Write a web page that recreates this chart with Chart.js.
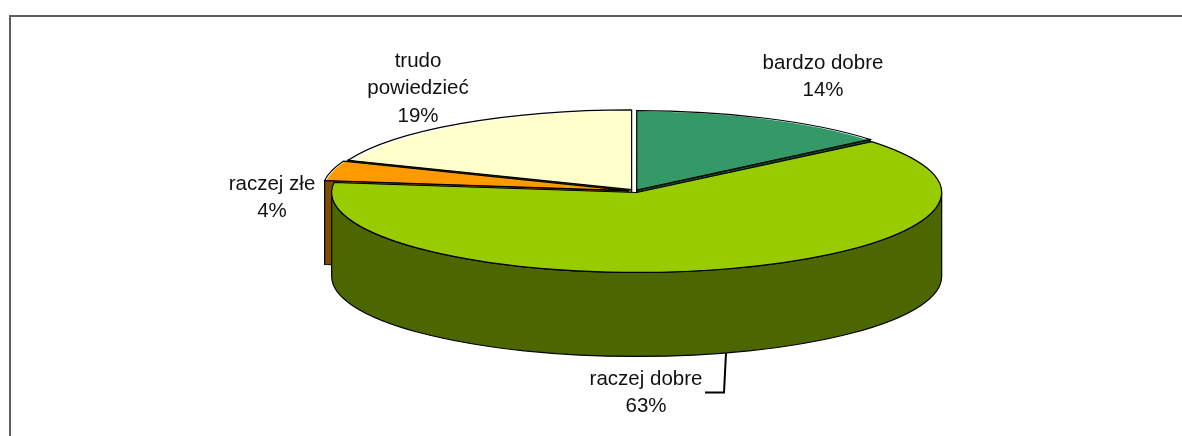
<!DOCTYPE html>
<html>
<head>
<meta charset="utf-8">
<style>html,body{margin:0;padding:0;background:#fff}canvas{display:block}</style>
<script src="https://cdn.jsdelivr.net/npm/chart.js@4/dist/chart.umd.min.js"></script>
</head>
<body>
<canvas id="c" width="1182" height="436"></canvas>
<script>
const categories = ['bardzo dobre', 'raczej dobre', 'raczej złe', 'trudo powiedzieć'];
const values = [14, 63, 4, 19];
const topColors = ['#339966', '#99CC00', '#FF9900', '#FFFFCC'];
const wallColors = ['#1A4D33', '#4C6600', '#804C00', '#80801A'];
const explode = [16, 24, 28, 24];

const TILT = 0.262, DEPTH = 84;
const labelLayout = [
  {lines: ['bardzo dobre'], x: 823, y: 63},
  {lines: ['raczej dobre'], x: 646, y: 379},
  {lines: ['raczej złe'], x: 272, y: 184},
  {lines: ['trudo', 'powiedzieć'], x: 418, y: 61}
];

function geom(el) {
  const off = (el.options.offset || 0) / 4;
  const mid = (el.startAngle + el.endAngle) / 2;
  return {
    cx: el.x + Math.cos(mid) * off,
    cy: el.y + TILT * Math.sin(mid) * off,
    R: el.outerRadius + off,
    a0: el.startAngle, a1: el.endAngle
  };
}
function face(ctx, g, a, color) {
  const px = g.cx + g.R * Math.cos(a), py = g.cy + TILT * g.R * Math.sin(a);
  ctx.beginPath();
  ctx.moveTo(g.cx, g.cy);
  ctx.lineTo(px, py);
  ctx.lineTo(px, py + DEPTH);
  ctx.lineTo(g.cx, g.cy + DEPTH);
  ctx.closePath();
  ctx.fillStyle = color;
  ctx.fill();
  ctx.strokeStyle = '#000';
  ctx.lineWidth = 1.2;
  ctx.stroke();
}
const pie3d = {
  id: 'pie3d',
  beforeDatasetsDraw(chart) {
    const ctx = chart.ctx, arcs = chart.getDatasetMeta(0).data;
    // side faces of the cuts, back to front
    for (let i = arcs.length - 1; i >= 0; i--) {
      const g = geom(arcs[i]);
      if (i !== 1 && Math.cos(g.a0) < 0) face(ctx, g, g.a0, wallColors[i]);
      if (Math.cos(g.a1) > 0) face(ctx, g, g.a1, wallColors[i]);
    }
    // rim wall
    arcs.forEach((el, i) => {
      const g = geom(el);
      const s = Math.max(g.a0, 0), e = Math.min(g.a1, Math.PI);
      if (e <= s) return;
      ctx.beginPath();
      ctx.ellipse(g.cx, g.cy, g.R, g.R * TILT, 0, s, e);
      ctx.ellipse(g.cx, g.cy + DEPTH, g.R, g.R * TILT, 0, e, s, true);
      ctx.closePath();
      ctx.fillStyle = wallColors[i];
      ctx.fill();
      ctx.strokeStyle = '#000';
      ctx.lineWidth = 1.2;
      ctx.stroke();
    });
    // flatten the library's own arcs
    const cy = arcs[0].y;
    ctx.save();
    ctx.translate(0, cy * (1 - TILT));
    ctx.scale(1, TILT);
  },
  afterDatasetsDraw(chart) {
    const ctx = chart.ctx, arcs = chart.getDatasetMeta(0).data;
    ctx.restore();
    arcs.forEach(el => {
      const g = geom(el);
      ctx.beginPath();
      ctx.moveTo(g.cx, g.cy);
      ctx.ellipse(g.cx, g.cy, g.R, g.R * TILT, 0, g.a0, g.a1);
      ctx.closePath();
      ctx.strokeStyle = '#000';
      ctx.lineWidth = 1.2;
      ctx.stroke();
    });
    // leader line for "raczej dobre"
    ctx.beginPath();
    ctx.moveTo(726, 353);
    ctx.lineTo(724, 392.5);
    ctx.lineTo(705, 392.5);
    ctx.strokeStyle = '#000';
    ctx.lineWidth = 2;
    ctx.stroke();
    // data labels
    ctx.fillStyle = '#111';
    ctx.font = '20.5px "Liberation Sans", Arial, sans-serif';
    ctx.textAlign = 'center';
    ctx.textBaseline = 'middle';
    labelLayout.forEach((l, i) => {
      const lines = l.lines.concat(values[i] + '%');
      lines.forEach((t, n) => ctx.fillText(t, l.x, l.y + n * 27.7));
    });
    // outer frame
    ctx.fillStyle = '#5f5f5f';
    ctx.fillRect(9, 15, 1173, 2);
    ctx.fillRect(9, 15, 2, 421);
  }
};
new Chart(document.getElementById('c'), {
  type: 'pie',
  data: {
    labels: categories,
    datasets: [{
      data: values,
      backgroundColor: topColors,
      borderWidth: 0,
      offset: explode,
      hoverOffset: 0,
      radius: 299,
      clip: false
    }]
  },
  options: {
    responsive: false,
    animation: false,
    events: [],
    layout: {padding: {left: 88, bottom: 54}},
    plugins: {legend: {display: false}, tooltip: {enabled: false}, title: {display: false}}
  },
  plugins: [pie3d]
});
</script>
</body>
</html>
